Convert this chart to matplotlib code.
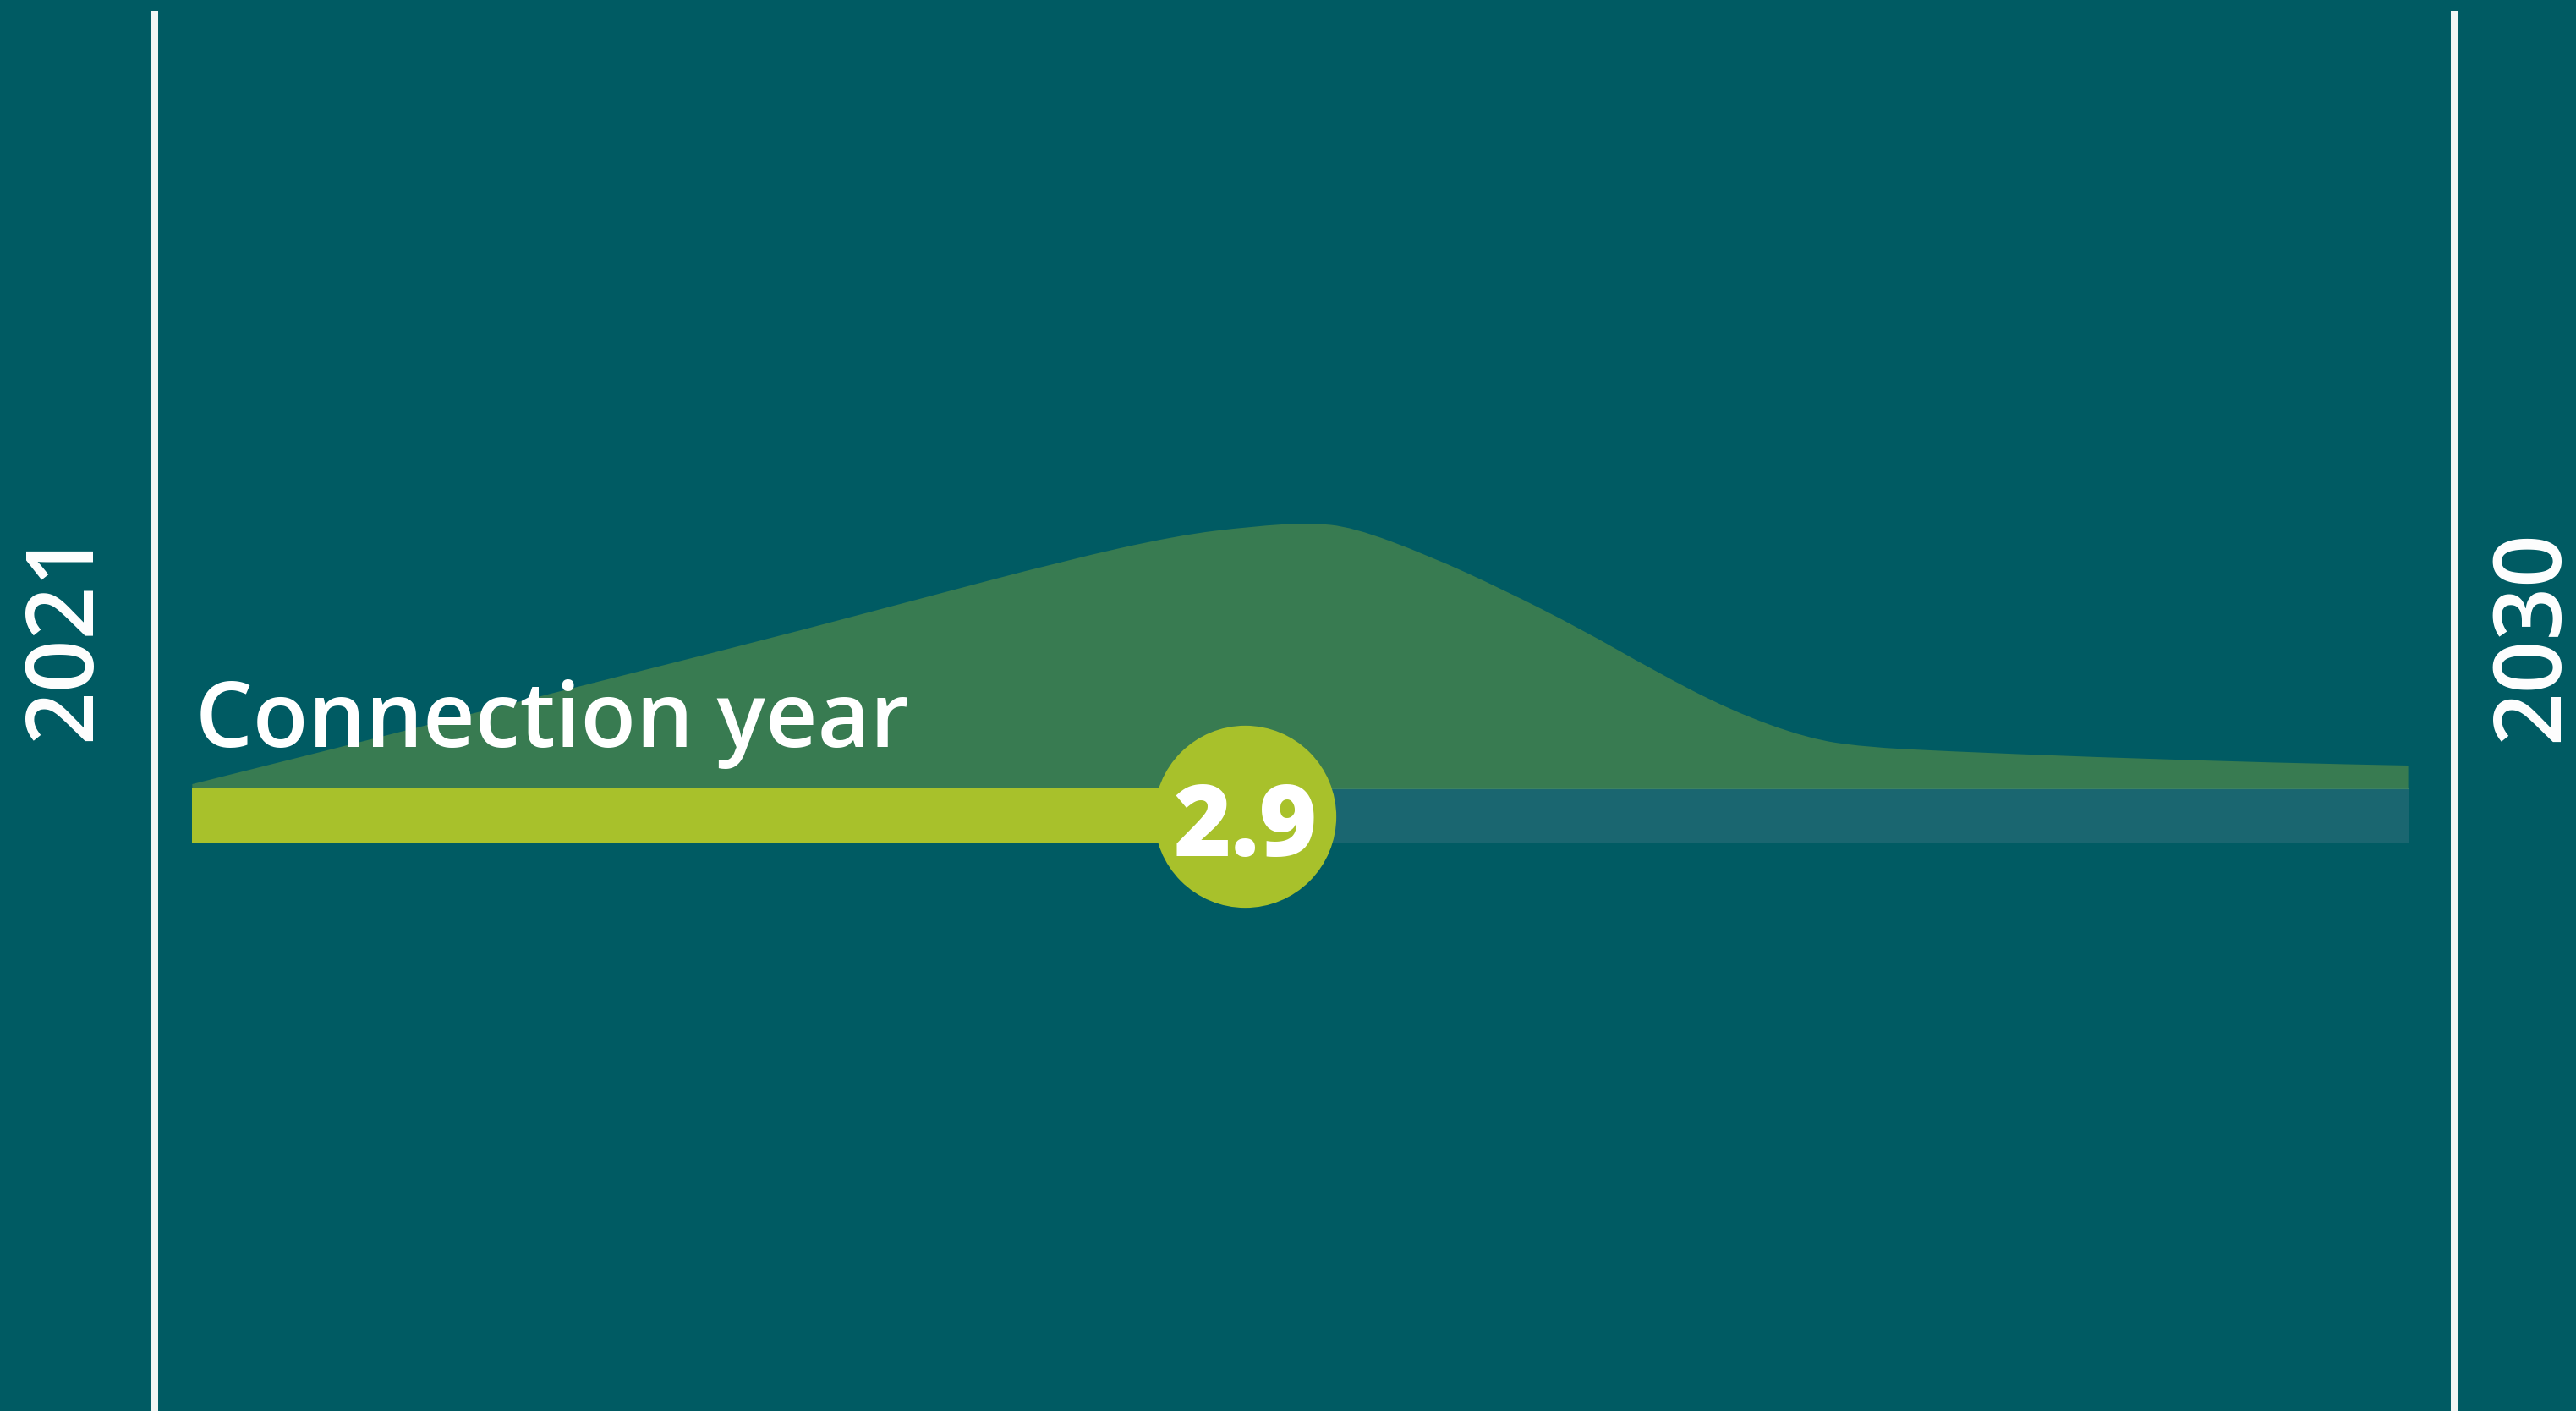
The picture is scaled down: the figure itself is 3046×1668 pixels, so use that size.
import matplotlib
matplotlib.use("Agg")
import matplotlib.pyplot as plt
from matplotlib.path import Path
from matplotlib.patches import PathPatch

# connection year distribution (relative density, peak = 100)
years = [2021.15, 2021.89, 2022.63, 2023.38, 2023.97, 2024.56, 2025.00, 2025.30,
         2025.52, 2025.69, 2025.99, 2026.28, 2026.58, 2026.87, 2027.17, 2027.47,
         2027.69, 2028.01, 2028.58, 2029.32, 2029.82]
density = [1.6, 19.4, 37.6, 55.7, 70.7, 85.7, 95.2, 98.7, 100.0, 98.4, 87.6,
           74.8, 60.2, 44.3, 29.3, 18.8, 15.6, 14.0, 11.8, 9.6, 8.6]

start_year = 2021
end_year = 2030
bar_start = 2021.15
bar_end = 2029.82
marker_year = 2025.27
marker_label = "2.9"
title = "Connection year"

BG = "#005b63"
AREA = "#387b51"
LIME = "#a8c12b"
TRACK = "#1a6670"
WHITE = "#f2f6f4"
FONT = "Open Sans"

fig = plt.figure(figsize=(30.46, 16.68), dpi=100)
fig.patch.set_facecolor(BG)
ax = fig.add_axes([0, 0, 1, 1])
ax.set_facecolor(BG)

# pixel layout: 2021 at x=182px, 2030 at x=2902px; density 0 at y=932px, 100 at y=618px
px_per_year = (2902 - 182) / (end_year - start_year)
px_per_unit = 3.14
ax.set_xlim(start_year - 182 / px_per_year, end_year + (3046 - 2902) / px_per_year)
ax.set_ylim(-(1668 - 932) / px_per_unit, 932 / px_per_unit)
ax.axis("off")

bar_h = 65 / px_per_unit

# density area, drawn as a smooth outline through the read points
pts = list(zip(years, density))
verts = [(years[0], 0), pts[0]]
codes = [Path.MOVETO, Path.LINETO]
for i in range(1, len(pts) - 1):
    mid = ((pts[i][0] + pts[i + 1][0]) / 2, (pts[i][1] + pts[i + 1][1]) / 2)
    verts += [pts[i], mid]
    codes += [Path.CURVE3, Path.CURVE3]
verts += [pts[-1], (years[-1], 0), (years[0], 0)]
codes += [Path.LINETO, Path.LINETO, Path.CLOSEPOLY]
ax.add_patch(PathPatch(Path(verts, codes), facecolor=AREA, edgecolor="none", zorder=1))

# track and progress bar
ax.barh(-bar_h / 2, bar_end - bar_start, left=bar_start, height=bar_h,
        color=TRACK, linewidth=0, zorder=2)
ax.barh(-bar_h / 2, marker_year - bar_start, left=bar_start, height=bar_h,
        color=LIME, linewidth=0, zorder=3)
ax.plot([marker_year, bar_end], [0, 0], color="#3d8263", linewidth=1.5, zorder=2.5)

# value bubble
ax.scatter([marker_year], [-bar_h / 2], s=155 ** 2, color=LIME, linewidth=0, zorder=4)
ax.text(marker_year, -bar_h / 2 - 1, marker_label, color="white", fontsize=84,
        fontweight="heavy", family=FONT, ha="center", va="center_baseline", zorder=5)

ax.text(2021.162, 49 / px_per_unit, title, color="white", fontsize=77,
        family=FONT, fontweight="semibold", ha="left", va="baseline", zorder=5)

# year boundary lines
for yr in (start_year, end_year):
    ax.axvline(yr, ymin=0, ymax=0.99, color=WHITE, linewidth=6.5, zorder=6)

ax.text(start_year - 104 / px_per_year, (932 - 750) / px_per_unit, str(start_year),
        color="white", fontsize=79, family=FONT, fontweight="semibold", rotation=90,
        ha="center", va="center")
ax.text(end_year + 94 / px_per_year, (932 - 752) / px_per_unit, str(end_year),
        color="white", fontsize=79, family=FONT, fontweight="semibold", rotation=90,
        ha="center", va="center")

fig.savefig("out.png", dpi=100, facecolor=BG)
